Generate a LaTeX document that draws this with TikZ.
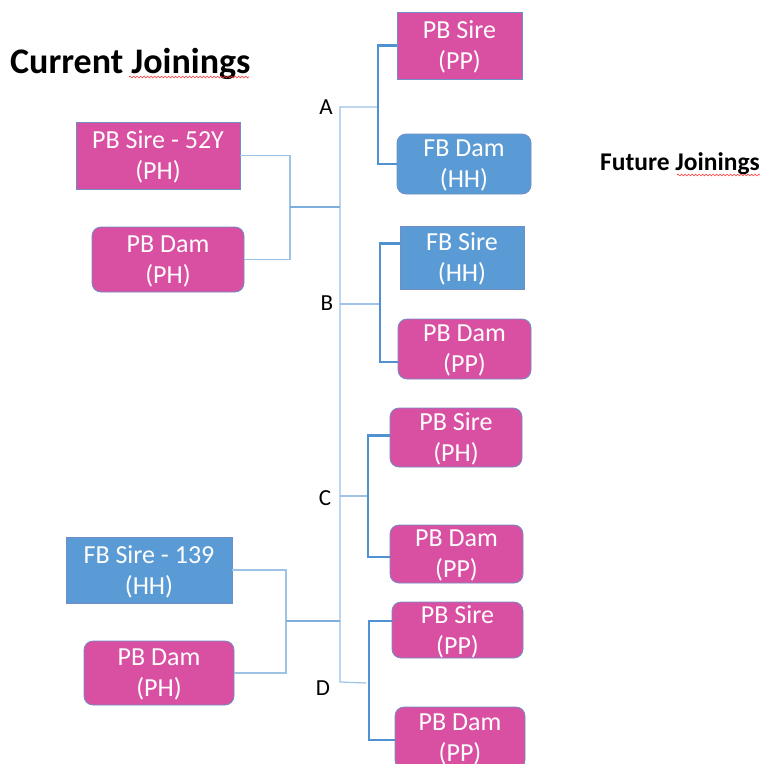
\documentclass[tikz,border=0pt]{standalone}
\usepackage{fontspec}
\setmainfont{Carlito}
\usetikzlibrary{decorations.pathmorphing}
\definecolor{pbpink}{RGB}{217,80,163}
\definecolor{fbblue}{RGB}{91,155,213}
\definecolor{boxedge}{RGB}{112,142,196}
\definecolor{thinblue}{RGB}{157,195,230}
\definecolor{darkblue}{RGB}{80,145,210}

\begin{document}
\begin{tikzpicture}[x=1pt,y=-1pt,
    box/.style={draw=boxedge, line width=0.8pt, inner sep=0pt, align=center,
        text=white, text depth=0pt, font=\fontsize{26}{31}\selectfont},
    pinkbox/.style={box, fill=pbpink},
    bluebox/.style={box, fill=fbblue},
    roundbox/.style={rounded corners=9pt},
    thinlink/.style={draw=thinblue, line width=1.2pt},
    joinlink/.style={draw=fbblue!80, line width=1.8pt},
    bracketlink/.style={draw=darkblue, line width=2.2pt},
    lbl/.style={inner sep=0pt, font=\fontsize{23}{27}\selectfont},
    squiggle/.style={draw=red!80, line width=0.6pt, decorate,
        decoration={snake, amplitude=0.9pt, segment length=3.5pt}}]
    \clip (0,0) rectangle (763,764);
    \fill[white] (0,0) rectangle (763,764);

    \node[anchor=base west, inner sep=0pt, font=\bfseries\fontsize{36}{43}\selectfont] (cur) at (10,73) {Current Joinings};
    \node[anchor=base west, inner sep=0pt, font=\bfseries\fontsize{25.5}{30}\selectfont] (fut) at (600,170) {Future Joinings};
    \draw[squiggle] (129,77) -- (249,77);
    \draw[squiggle] (677,175) -- (760,175);

    % current
    \node[pinkbox, minimum width=164pt, minimum height=67pt] (cur1s) at (158,155.5) {PB Sire - 52Y\\(PH)};
    \node[pinkbox, roundbox, minimum width=152pt, minimum height=65pt] (cur1d) at (168,259.5) {PB Dam\\(PH)};
    \node[bluebox, minimum width=166pt, minimum height=66pt] (cur2s) at (149,570) {FB Sire - 139\\(HH)};
    \node[pinkbox, roundbox, minimum width=150pt, minimum height=64pt] (cur2d) at (159,673) {PB Dam\\(PH)};

    % future
    \node[pinkbox, minimum width=125pt, minimum height=67pt] (As) at (459.5,45.5) {PB Sire\\(PP)};
    \node[bluebox, roundbox, minimum width=134pt, minimum height=60pt] (Ad) at (464,164) {FB Dam\\(HH)};
    \node[bluebox, minimum width=124pt, minimum height=63pt] (Bs) at (462,257.5) {FB Sire\\(HH)};
    \node[pinkbox, roundbox, minimum width=133pt, minimum height=60pt] (Bd) at (464.5,349) {PB Dam\\(PP)};
    \node[pinkbox, roundbox, minimum width=132pt, minimum height=59pt] (Cs) at (456,437.5) {PB Sire\\(PH)};
    \node[pinkbox, roundbox, minimum width=133pt, minimum height=58pt] (Cd) at (456.5,554) {PB Dam\\(PP)};
    \node[pinkbox, roundbox, minimum width=131pt, minimum height=56pt] (Ds) at (457.5,630) {PB Sire\\(PP)};
    \node[pinkbox, roundbox, minimum width=130pt, minimum height=62pt] (Dd) at (460,738) {PB Dam\\(PP)};

    \node[lbl] (la) at (326,107.5) {A};
    \node[lbl] (lb) at (327,303) {B};
    \node[lbl] (lc) at (325,498) {C};
    \node[lbl] (ld) at (323,688) {D};

    \coordinate (tA) at (340,107);
    \coordinate (tD) at (340,682);
    \coordinate (jA) at (378,107);
    \coordinate (jB) at (380,304);
    \coordinate (jC) at (368,496);
    \coordinate (jD) at (366,683);
    \coordinate (p1) at (290,207);
    \coordinate (p2) at (286,621);

    \draw[thinlink] (jA) -- (tA) -- (tD) -- (jD);
    \draw[thinlink] (jB) -- (jB -| tA);
    \draw[thinlink] (jC) -- (jC -| tA);
    \draw[thinlink] (cur1s.east) -| (p1) |- (cur1d.east);
    \draw[thinlink] (cur2s.east) -| (p2) |- (cur2d.east);
    \draw[joinlink] (p1) -- (p1 -| tA);
    \draw[joinlink] (p2) -- (p2 -| tA);

    \draw[bracketlink] (As.west) -- ++(-19,0) |- (Ad.west);
    \draw[bracketlink] ([yshift=14pt]Bs.west) -- ++(-20,0) |- ([yshift=-13pt]Bd.west);
    \draw[bracketlink] ([yshift=2pt]Cs.west) -- ++(-22,0) |- ([yshift=-3pt]Cd.west);
    \draw[bracketlink] ([yshift=9pt]Ds.west) -- ++(-23,0) |- ([yshift=-2pt]Dd.west);
\end{tikzpicture}
\end{document}
